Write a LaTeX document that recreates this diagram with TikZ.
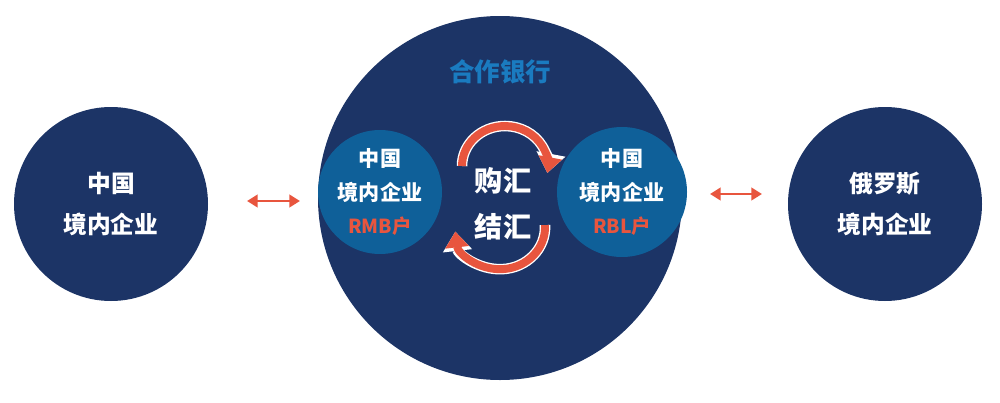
\documentclass[tikz,border=0pt]{standalone}
\usepackage{fontspec}
\setmainfont{Noto Sans CJK SC}
\usetikzlibrary{arrows.meta}
\definecolor{navy}{HTML}{1C3466}
\definecolor{inblue}{HTML}{0F6099}
\definecolor{titleblue}{HTML}{1A7BC0}
\definecolor{arrred}{HTML}{E8553E}
\tikzset{
  party/.style={circle,fill=navy,minimum size=3.88cm,text=white,font=\bfseries\fontsize{13.5}{23}\selectfont,align=center},
  account/.style={circle,fill=inblue,text=white,font=\bfseries\fontsize{12}{19}\selectfont,align=center,inner sep=0pt},
  link/.style={{Triangle[width=7pt,length=6pt]}-{Triangle[width=7pt,length=6pt]},arrred,line width=1.6pt},
  swap/.style={arrred,line width=4.5pt,-{Triangle[width=13pt,length=9pt]},preaction={draw=white,line width=6pt,-{Triangle[width=16pt,length=11pt]}}}
}
\begin{document}
\begin{tikzpicture}
\useasboundingbox (0,0) rectangle (20,8.04);
% Chinese party
\node[party] (cn) at (2.22,3.96) {中国\\境内企业};
% Bank
\node[circle,fill=navy,minimum size=7.28cm] (bank) at (10,4.08) {};
\node[text=titleblue,font=\bfseries\fontsize{14.5}{17}\selectfont] (title) at (10,6.6) {合作银行};
\node[account,minimum size=2.48cm] (rmb) at (7.6,4.2) {中国\\境内企业\\{\color{arrred}\fontsize{11}{15}\selectfont RMB户}};
\node[account,minimum size=2.6cm] (rbl) at (12.44,4.2) {中国\\境内企业\\{\color{arrred}\fontsize{11}{15}\selectfont RBL户}};
% Russian party
\node[party] (ru) at (17.7,3.96) {俄罗斯\\境内企业};
% Exchange arrows
\draw[swap] (9.24,4.72) arc (180:-10:0.86 and 0.8);
\draw[swap] (10.9,3.54) arc (3:-174:0.9 and 0.84);
\node[text=white,font=\bfseries\fontsize{16}{18}\selectfont] (buy) at (10.06,4.42) {购汇};
\node[text=white,font=\bfseries\fontsize{16}{18}\selectfont] (sell) at (10.06,3.5) {结汇};
% Links
\draw[link] (4.94,4.02) -- (6.0,4.02);
\draw[link] (14.2,4.16) -- (15.24,4.16);
\end{tikzpicture}
\end{document}
